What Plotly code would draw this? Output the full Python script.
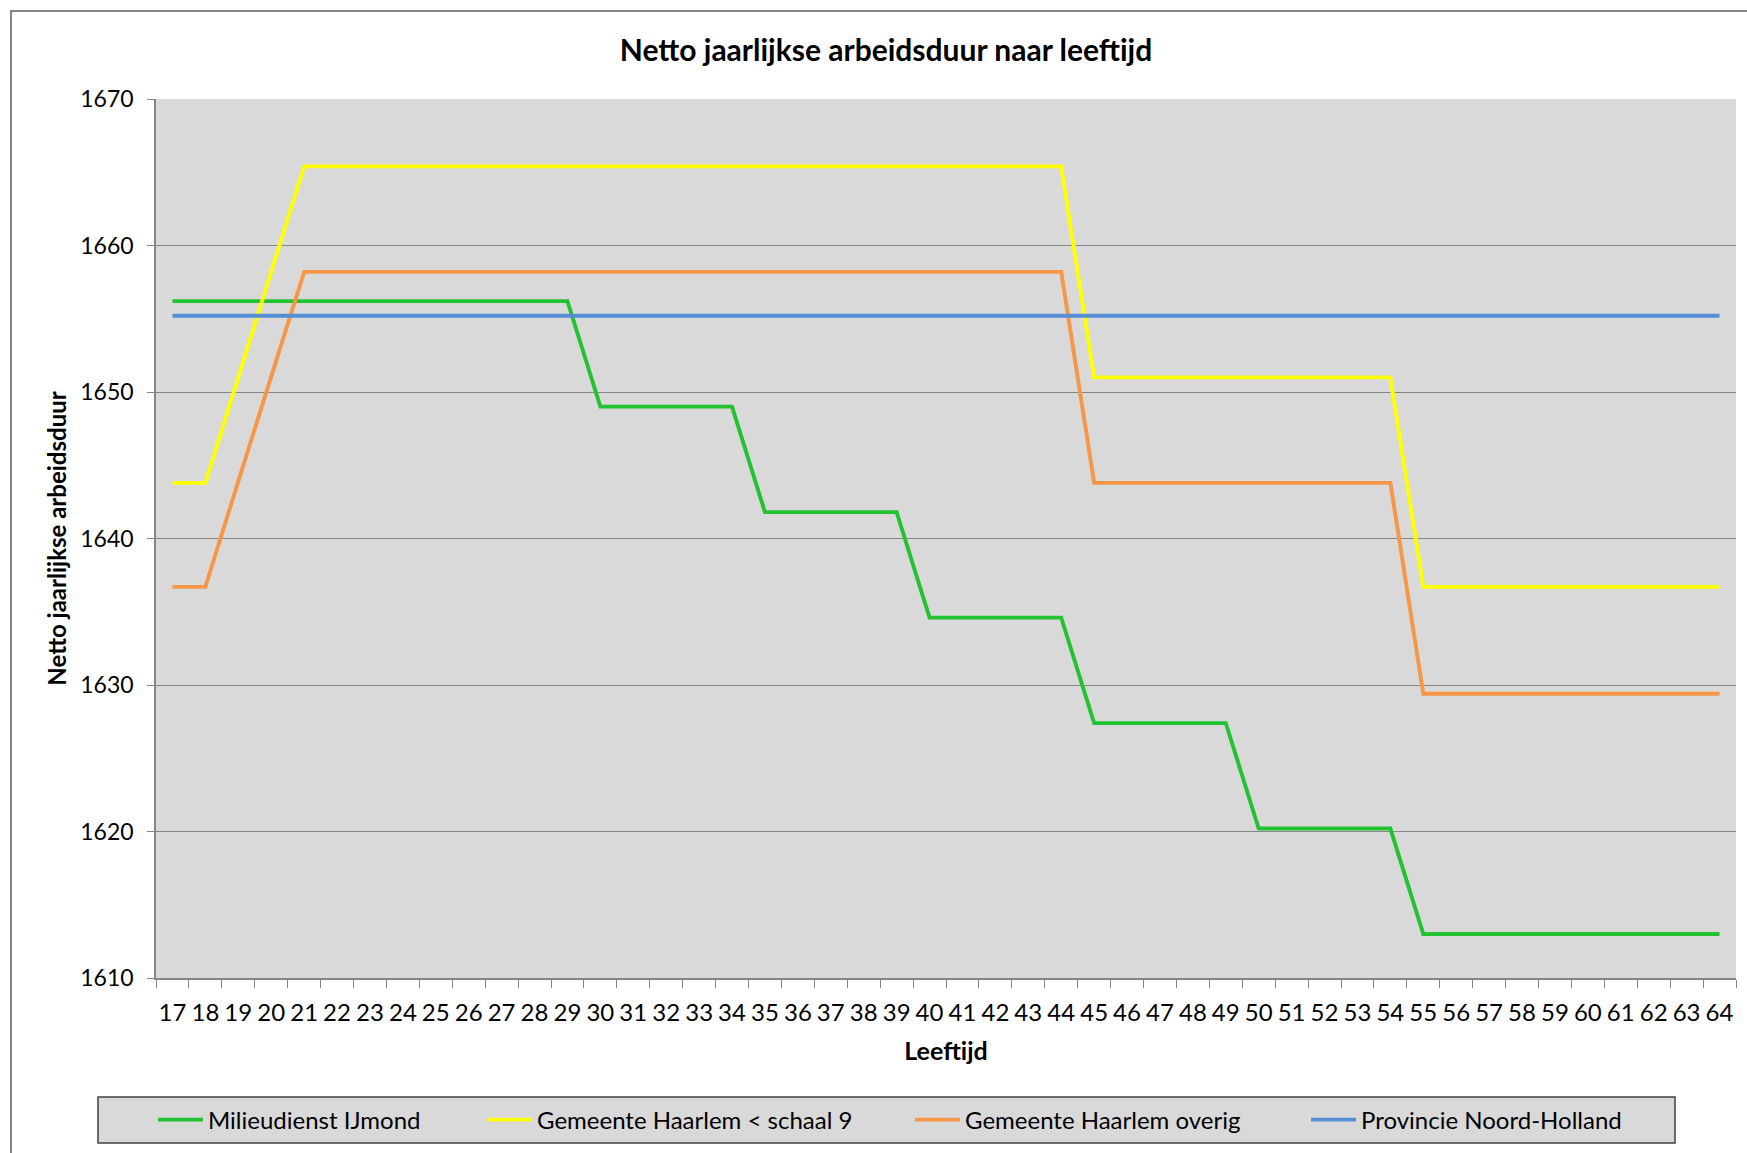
import plotly.graph_objects as go

ages = [str(a) for a in range(17, 65)]

milieudienst = ([1656.2] * 13 + [1649.0] * 5 + [1641.8] * 5 + [1634.6] * 5
                + [1627.4] * 5 + [1620.2] * 5 + [1613.0] * 10)
haarlem_schaal9 = ([1643.8] * 2 + [1651.0, 1658.2] + [1665.4] * 24
                   + [1651.0] * 10 + [1636.7] * 10)
haarlem_overig = ([1636.7] * 2 + [1643.9, 1651.0] + [1658.2] * 24
                  + [1643.8] * 10 + [1629.4] * 10)
provincie = [1655.2] * 48

series = [
    ("Milieudienst IJmond", milieudienst, "#22c232"),
    ("Gemeente Haarlem < schaal 9", haarlem_schaal9, "#ffff00"),
    ("Gemeente Haarlem overig", haarlem_overig, "#f79646"),
    ("Provincie Noord-Holland", provincie, "#558ed5"),
]

FONT = "Lato"

W, H = 1747, 1153
L, R, T, B = 156, 11, 99, 175
pw, ph = W - L - R, H - T - B

def px_x(p):
    return (p - L) / pw

def px_y(p):
    return (H - B - p) / ph

legend_starts = [153, 482, 910, 1306]
legend_ids = ["legend", "legend2", "legend3", "legend4"]

fig = go.Figure()
for (name, vals, col), lid in zip(series, legend_ids):
    fig.add_trace(go.Scatter(x=ages, y=vals, name=name, mode="lines",
                             legend=lid,
                             line=dict(color=col, width=3.9)))

# outer chart frame
fig.add_shape(type="rect", xref="paper", yref="paper",
              x0=px_x(11), x1=px_x(1765), y0=px_y(1170), y1=px_y(11),
              line=dict(color="#868686", width=2), fillcolor="rgba(0,0,0,0)",
              layer="below")
# legend box
fig.add_shape(type="rect", xref="paper", yref="paper",
              x0=px_x(98), x1=px_x(1675), y0=px_y(1143), y1=px_y(1097),
              line=dict(color="#404040", width=1.5), fillcolor="#d9d9d9",
              layer="below")

legend_layout = {}
for lid, xs in zip(legend_ids, legend_starts):
    legend_layout[lid] = dict(orientation="h", x=px_x(xs), xanchor="left",
                              y=px_y(1120), yanchor="middle",
                              bgcolor="rgba(0,0,0,0)", itemwidth=45,
                              font=dict(size=24, family=FONT))

fig.update_layout(
    width=W, height=H, autosize=False,
    margin=dict(l=L, r=R, t=T, b=B),
    paper_bgcolor="white", plot_bgcolor="#d9d9d9",
    font=dict(family=FONT, color="black", size=22),
    title=dict(text="<b>Netto jaarlijkse arbeidsduur naar leeftijd</b>",
               x=px_x(886), xref="paper", xanchor="center",
               y=1 - 50 / H, yanchor="middle",
               font=dict(size=30, family=FONT)),
    showlegend=True,
    xaxis=dict(type="category", range=[-0.5, 47.5], tickson="boundaries",
               ticks="outside", ticklen=8, tickcolor="#868686",
               showline=True, linecolor="#868686", linewidth=1.5,
               showgrid=False, tickangle=0, tickfont=dict(size=24),
               ticklabelstandoff=12,
               title=dict(text="<b>Leeftijd</b>", font=dict(size=25), standoff=18)),
    yaxis=dict(range=[1610, 1670], dtick=10, tick0=1610,
               ticks="outside", ticklen=7, tickcolor="#868686",
               showline=True, linecolor="#868686", linewidth=1.5,
               showgrid=True, gridcolor="#868686", gridwidth=1,
               zeroline=False, tickfont=dict(size=23),
               ticklabelstandoff=9,
               title=dict(text="<b>Netto jaarlijkse arbeidsduur</b>",
                          font=dict(size=24), standoff=7)),
    **legend_layout,
)

fig.write_html("out.html", config={"displayModeBar": False},
               post_script="document.body.style.margin='0';")
